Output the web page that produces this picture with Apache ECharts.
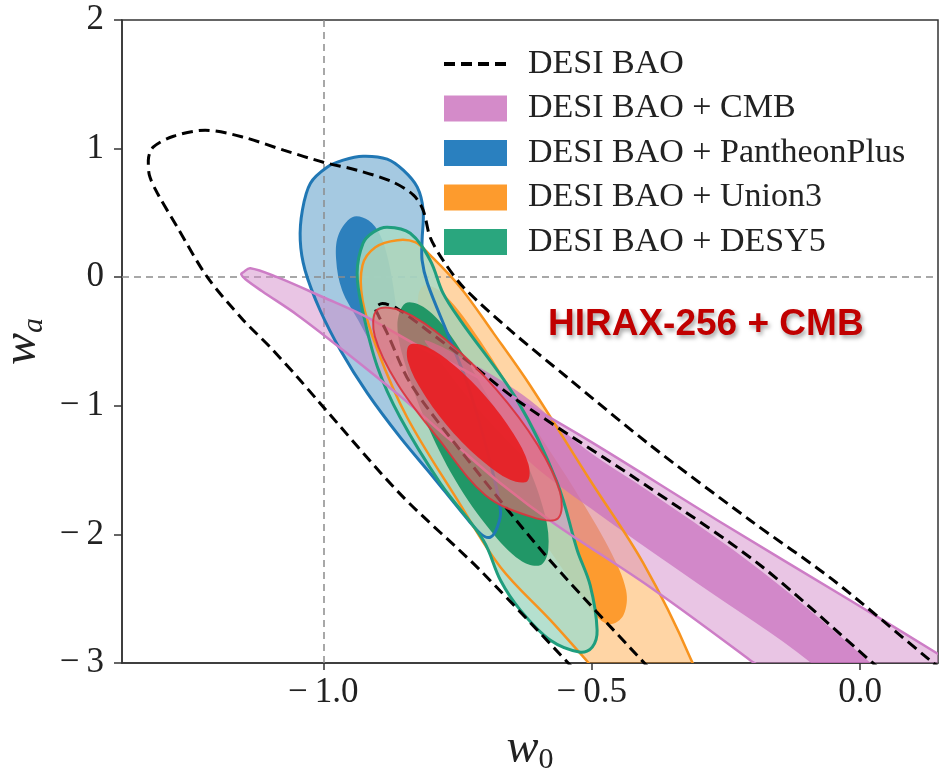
<!DOCTYPE html>
<html><head><meta charset="utf-8">
<script src="https://cdn.jsdelivr.net/npm/echarts@6/dist/echarts.min.js"></script>
<style>html,body{margin:0;padding:0;background:#fff}#c{width:941px;height:777px}</style>
</head><body><div id="c"></div>
<script>
// axis ticks
const xTicks = [-1.0, -0.5, 0.0];
const xTickLabels = ['\u2212\u20091.0', '\u2212\u20090.5', '0.0'];
const yTicks = [-3, -2, -1, 0, 1, 2];
const yTickLabels = ['\u2212\u20093', '\u2212\u20092', '\u2212\u20091', '0', '1', '2'];
const legendNames = ['DESI BAO', 'DESI BAO + CMB', 'DESI BAO + PantheonPlus', 'DESI BAO + Union3', 'DESI BAO + DESY5'];
const annotation = 'HIRAX-256 + CMB';

// DESI BAO (dashed) contours, [w0, wa]
const desiOuter = [[-0.514,-3.134],[-0.708,-2.278],[-0.857,-1.685],[-1.011,-0.956],[-1.048,-0.778],[-1.099,-0.544],[-1.149,-0.334],[-1.216,0.000],[-1.272,0.389],[-1.309,0.653],[-1.324,0.793],[-1.326,0.910],[-1.317,1.011],[-1.279,1.096],[-1.220,1.143],[-1.149,1.089],[-1.074,0.988],[-1.000,0.894],[-0.937,0.832],[-0.870,0.739],[-0.832,0.638],[-0.814,0.521],[-0.801,0.311],[-0.777,0.132],[-0.739,-0.078],[-0.652,-0.412],[-0.546,-0.778],[-0.391,-1.306],[-0.205,-1.890],[-0.050,-2.356],[0.130,-2.978],[0.177,-3.134]];
const desiInner = [[-0.372,-3.134],[-0.583,-2.177],[-0.745,-1.345],[-0.838,-0.824],[-0.881,-0.435],[-0.897,-0.300],[-0.903,-0.240],[-0.890,-0.205],[-0.862,-0.245],[-0.801,-0.430],[-0.726,-0.670],[-0.639,-0.956],[-0.391,-1.641],[-0.186,-2.240],[0.022,-2.994],[0.060,-3.134]];

// DESI BAO + CMB
const cmbOuter = [[-1.149,0.039],[-1.136,0.070],[-1.086,0.000],[-1.000,-0.156],[-0.926,-0.295],[-0.819,-0.544],[-0.702,-0.801],[-0.516,-1.244],[-0.266,-1.890],[-0.019,-2.512],[0.143,-2.924],[0.223,-3.134],[0.261,-3.445],[-0.168,-3.445],[-0.158,-3.134],[-0.205,-2.978],[-0.391,-2.411],[-0.568,-1.921],[-0.670,-1.602],[-0.763,-1.267],[-0.857,-0.925],[-0.963,-0.568],[-1.048,-0.295],[-1.114,-0.109],[-1.145,-0.016],[-1.153,0.023]];
const cmbInner = [[-0.810,-0.490],[-0.726,-0.661],[-0.615,-0.956],[-0.516,-1.322],[-0.391,-1.672],[-0.186,-2.278],[0.022,-3.009],[0.065,-3.211],[-0.056,-3.211],[-0.093,-2.994],[-0.298,-2.395],[-0.484,-1.851],[-0.615,-1.439],[-0.726,-0.956],[-0.791,-0.607]];

// DESI BAO + PantheonPlus
const panOuter = [[-1.039,0.521],[-1.024,0.731],[-0.993,0.855],[-0.963,0.910],[-0.926,0.941],[-0.881,0.918],[-0.851,0.832],[-0.825,0.700],[-0.814,0.521],[-0.816,0.288],[-0.816,0.132],[-0.806,-0.047],[-0.769,-0.435],[-0.732,-0.824],[-0.695,-1.345],[-0.670,-1.812],[-0.676,-1.944],[-0.689,-2.022],[-0.708,-1.991],[-0.745,-1.812],[-0.795,-1.555],[-0.857,-1.244],[-0.918,-0.902],[-0.968,-0.568],[-1.006,-0.257],[-1.034,0.054],[-1.043,0.288]];
const panInner = [[-0.946,0.467],[-0.916,0.443],[-0.894,0.327],[-0.879,0.132],[-0.866,-0.179],[-0.860,-0.490],[-0.875,-0.684],[-0.903,-0.568],[-0.935,-0.334],[-0.965,-0.101],[-0.976,0.132],[-0.972,0.327]];

// DESI BAO + Union3
const uniOuter = [[-0.862,0.288],[-0.829,0.272],[-0.801,0.171],[-0.745,-0.078],[-0.683,-0.435],[-0.615,-0.840],[-0.503,-1.579],[-0.404,-2.224],[-0.317,-2.955],[-0.302,-3.211],[-0.462,-3.211],[-0.507,-2.994],[-0.577,-2.667],[-0.670,-2.255],[-0.750,-1.734],[-0.844,-1.089],[-0.899,-0.568],[-0.927,-0.179],[-0.927,0.093],[-0.903,0.233]];
const uniInner = [[-0.810,-0.062],[-0.773,-0.140],[-0.708,-0.490],[-0.615,-1.112],[-0.531,-1.656],[-0.466,-2.123],[-0.436,-2.434],[-0.441,-2.628],[-0.466,-2.698],[-0.493,-2.628],[-0.540,-2.356],[-0.615,-1.890],[-0.708,-1.267],[-0.782,-0.723],[-0.819,-0.334],[-0.823,-0.140]];

// DESI BAO + DESY5
const desOuter = [[-0.881,0.389],[-0.838,0.342],[-0.801,0.132],[-0.777,-0.124],[-0.745,-0.334],[-0.639,-0.956],[-0.564,-1.602],[-0.527,-2.123],[-0.503,-2.395],[-0.490,-2.745],[-0.499,-2.877],[-0.521,-2.916],[-0.577,-2.823],[-0.633,-2.589],[-0.670,-2.356],[-0.702,-2.045],[-0.782,-1.602],[-0.857,-1.089],[-0.899,-0.700],[-0.927,-0.257],[-0.937,0.031],[-0.926,0.264],[-0.907,0.350]];
const desInner = [[-0.847,-0.202],[-0.810,-0.241],[-0.763,-0.451],[-0.689,-0.956],[-0.624,-1.423],[-0.587,-1.851],[-0.581,-2.123],[-0.596,-2.240],[-0.633,-2.201],[-0.689,-1.967],[-0.754,-1.579],[-0.810,-1.112],[-0.847,-0.684],[-0.862,-0.373]];

// HIRAX-256 + CMB
const hiraxOuter = [[-0.563,-1.876],[-0.559,-1.670],[-0.601,-1.302],[-0.678,-0.872],[-0.770,-0.492],[-0.851,-0.267],[-0.900,-0.255],[-0.904,-0.461],[-0.862,-0.828],[-0.785,-1.259],[-0.698,-1.695],[-0.612,-1.864]];
const hiraxInner = [[-0.620,-1.586],[-0.618,-1.453],[-0.646,-1.216],[-0.696,-0.935],[-0.756,-0.687],[-0.808,-0.539],[-0.840,-0.529],[-0.842,-0.662],[-0.814,-0.899],[-0.764,-1.180],[-0.704,-1.428],[-0.652,-1.576]];

function poly(name, pts, fill, stroke, lw, z, legendColor) {
  const s = {
    type: 'custom', name: name, z: z, clip: true, silent: true,
    data: pts, encode: {x: 0, y: 1},
    renderItem: function (params, api) {
      if (params.dataIndex !== 0) return null;
      return {
        type: 'polygon',
        shape: {points: pts.map(function (p) { return api.coord(p); }), smooth: 0.35},
        style: {fill: fill || 'none', stroke: stroke || 'none', lineWidth: lw || 0}
      };
    }
  };
  if (legendColor) s.itemStyle = {color: legendColor};
  return s;
}

const serif = 'Liberation Serif';
const chart = echarts.init(document.getElementById('c'));
chart.setOption({
  animation: false,
  backgroundColor: '#fff',
  grid: {left: 122, right: 3, top: 20, bottom: 114, show: true, borderColor: '#333', borderWidth: 1.5, outerBoundsMode: 'none', containLabel: false},
  title: {text: annotation, left: 548, top: 306, padding: 0,
    textStyle: {fontFamily: 'Liberation Sans', fontWeight: 'bold', fontSize: 37, color: '#c00000',
      textShadowColor: 'rgba(0,0,0,0.35)', textShadowBlur: 4, textShadowOffsetX: 2, textShadowOffsetY: 3}},
  legend: {
    orient: 'vertical', left: 437, top: 42, itemWidth: 63, itemHeight: 26, itemGap: 10.5,
    selectedMode: false,
    textStyle: {fontFamily: serif, fontSize: 34, color: '#222', padding: [0, 0, 0, 16]},
    data: [
      {name: legendNames[0], itemStyle: {opacity: 0}, lineStyle: {width: 4, type: [11, 6], color: '#000'}},
      {name: legendNames[1], icon: 'rect'},
      {name: legendNames[2], icon: 'rect'},
      {name: legendNames[3], icon: 'rect'},
      {name: legendNames[4], icon: 'rect'}
    ]
  },
  xAxis: {
    type: 'value', min: -1.375, max: 0.145,
    name: '{i|w}{s|0}', nameLocation: 'middle', nameGap: 60,
    nameTextStyle: {rich: {
      i: {fontFamily: serif, fontStyle: 'italic', fontSize: 48, color: '#222'},
      s: {fontFamily: serif, fontSize: 30, color: '#222', padding: [22, 0, 0, 0]}
    }},
    splitLine: {show: false},
    axisLine: {onZero: false, lineStyle: {color: '#333', width: 1.5}},
    axisTick: {customValues: xTicks, length: 7, lineStyle: {color: '#333', width: 1.5}},
    axisLabel: {customValues: xTicks, margin: 12, fontFamily: serif, fontSize: 35, color: '#222',
      formatter: function (v) { const i = xTicks.findIndex(function (t) { return Math.abs(t - v) < 1e-6; }); return i >= 0 ? xTickLabels[i] : ''; }}
  },
  yAxis: {
    type: 'value', min: -3, max: 2, interval: 1,
    name: '{i|w}{s|a}', nameLocation: 'middle', nameGap: 66, nameRotate: 90,
    nameTextStyle: {rich: {
      i: {fontFamily: serif, fontStyle: 'italic', fontSize: 48, color: '#222'},
      s: {fontFamily: serif, fontStyle: 'italic', fontSize: 30, color: '#222', padding: [22, 0, 0, 0]}
    }},
    splitLine: {show: false},
    axisLine: {onZero: false, lineStyle: {color: '#333', width: 1.5}},
    axisTick: {length: 8, lineStyle: {color: '#333', width: 1.5}},
    axisLabel: {margin: 18, fontFamily: serif, fontSize: 35, color: '#222',
      formatter: function (v) { const i = yTicks.indexOf(Math.round(v)); return i >= 0 ? yTickLabels[i] : ''; }}
  },
  series: [
    poly('pan-fill', panOuter, 'rgba(31,119,180,0.40)', null, 0, 2),
    poly('pan-in', panInner, 'rgba(35,122,186,0.92)', null, 0, 3),
    poly('uni-fill', uniOuter, 'rgba(255,150,30,0.40)', null, 0, 4),
    poly('uni-in', uniInner, 'rgba(253,152,40,0.95)', null, 0, 5),
    poly('des-fill', desOuter, 'rgba(168,219,199,0.85)', null, 0, 6),
    poly('des-in', desInner, 'rgba(25,148,98,0.95)', null, 0, 7),
    poly(legendNames[1], cmbOuter, 'rgba(211,140,201,0.5)', null, 0, 8, '#d48bc9'),
    poly('cmb-in', cmbInner, 'rgba(200,110,190,0.7)', null, 0, 9),
    {type: 'line', name: 'guides', data: [], z: 10, silent: true,
      markLine: {silent: true, symbol: 'none', label: {show: false},
        lineStyle: {color: '#8c8c8c', type: [7, 5], width: 1.5},
        data: [{xAxis: -1}, {yAxis: 0}]}},
    poly(legendNames[2], panOuter, null, '#2077b4', 3, 11, '#2a80bf'),
    poly(legendNames[3], uniOuter, null, '#f7931e', 2.5, 12, '#fd9b2d'),
    poly(legendNames[4], desOuter, null, '#1f9e7e', 3, 13, '#2aa67e'),
    poly('cmb-line', cmbOuter, null, 'rgba(205,125,198,1)', 2.5, 14),
    {type: 'line', name: legendNames[0], data: desiOuter, z: 15, symbol: 'none', smooth: 0.3, silent: true,
      lineStyle: {color: '#000', width: 3, type: [11, 6]}, itemStyle: {color: '#000'}},
    {type: 'line', name: 'desi-inner', data: desiInner, z: 15, symbol: 'none', smooth: 0.3, silent: true,
      lineStyle: {color: '#000', width: 3, type: [11, 6]}},
    poly('hirax-out', hiraxOuter, 'rgba(236,105,112,0.62)', 'rgba(220,50,60,0.9)', 2, 16),
    poly('hirax-in', hiraxInner, 'rgba(232,30,35,0.92)', null, 0, 17)
  ]
});
</script>
</body></html>
